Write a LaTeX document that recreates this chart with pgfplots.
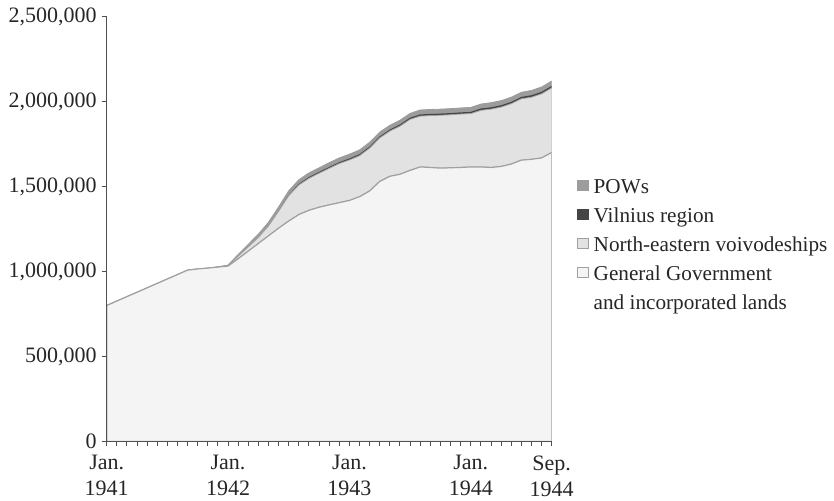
\documentclass[border=0pt]{standalone}
\usepackage{fontspec}
\setmainfont{Liberation Serif}
\usepackage{pgfplots}
\usepackage{pgfplotstable}
\pgfplotsset{compat=1.18}
\definecolor{ggc}{HTML}{F4F4F4}
\definecolor{nec}{HTML}{E2E2E2}
\definecolor{vilc}{HTML}{454545}
\definecolor{powc}{HTML}{9C9C9C}
\definecolor{edgec}{HTML}{A0A0A0}
\definecolor{axc}{HTML}{505050}

\pgfplotstableread{
m gg ne vil pow
0 800000 0 0 0
1 826000 0 0 0
2 852000 0 0 0
3 878000 0 0 0
4 904000 0 0 0
5 930000 0 0 0
6 956000 0 0 0
7 982000 0 0 0
8 1008000 0 0 0
9 1015000 0 0 0
10 1020000 0 0 0
11 1026000 0 0 2000
12 1032000 2000 0 4000
13 1075000 15000 0 10000
14 1120000 25000 0 15000
15 1165000 36000 0 19000
16 1210000 58000 0 22000
17 1255000 100000 2000 23000
18 1297000 149000 5000 24000
19 1335000 174000 7000 24000
20 1360000 188000 8000 24000
21 1378000 200000 8000 24000
22 1392000 215000 8000 25000
23 1405000 230000 8000 25000
24 1418000 238000 9000 25000
25 1440000 241000 9000 25000
26 1474000 252000 9000 25000
27 1530000 256000 9000 25000
28 1560000 266000 9000 25000
29 1572000 283000 10000 25000
30 1595000 300000 10000 25000
31 1615000 299000 10000 26000
32 1612000 305000 10000 26000
33 1608000 311000 10000 26000
34 1610000 312000 10000 26000
35 1612000 314000 10000 26000
36 1615000 314000 10000 26000
37 1615000 333000 11000 26000
38 1612000 343000 11000 27000
39 1618000 349000 11000 27000
40 1632000 355000 11000 27000
41 1655000 361000 11000 27000
42 1660000 365000 12000 28000
43 1668000 377000 12000 28000
44 1700000 380000 12000 28000
}\data

\begin{document}
\begin{tikzpicture}
\path[use as bounding box] (-53.35pt,-29.75pt) rectangle (363.65pt,220.75pt);
\begin{axis}[
  at={(0,0)}, anchor=south west,
  scale only axis, width=222.5pt, height=212.5pt,
  xmin=0, xmax=44, ymin=0, ymax=2500000,
  axis on top,
  axis lines*=left,
  axis line style={axc, line width=0.6pt, -},
  tick align=outside,
  tick style={axc, line width=0.5pt},
  major tick length=2.5pt, minor tick length=2.2pt,
  xtick={0,12,24,36,44},
  xticklabels={{Jan.\\1941},{Jan.\\1942},{Jan.\\1943},{Jan.\\1944},{Sep.\\1944}},
  minor xtick={0,1,...,44},
  ytick={0,500000,1000000,1500000,2000000,2500000},
  scaled y ticks=false,
  yticklabel style={/pgf/number format/fixed, /pgf/number format/1000 sep={,}, xshift=1pt},
  /pgf/number format/assume math mode=true,
  xticklabel style={align=center, yshift=-1pt},
  font=\fontsize{11pt}{13pt}\selectfont,
  ticklabel style={font=\fontsize{11pt}{13pt}\selectfont, text=black!85},
  stack plots=y,
  legend style={at={(1,0.631)}, anchor=north west, xshift=12.5pt,
    draw=none, fill=none, inner sep=0pt, row sep=0.9pt, column sep=1.8pt,
    font=\fontsize{10.6pt}{13pt}\selectfont,
    nodes={inner sep=0.8pt, text height=9pt, text depth=3pt, text=black!85},
    cells={anchor=west}},
]
\addlegendimage{legend image code/.code={\draw[fill=powc,draw=powc] (0pt,-1.6pt) rectangle (5.3pt,3.7pt);}}
\addlegendentry{POWs}
\addlegendimage{legend image code/.code={\draw[fill=vilc,draw=vilc] (0pt,-1.6pt) rectangle (5.3pt,3.7pt);}}
\addlegendentry{Vilnius region}
\addlegendimage{legend image code/.code={\draw[fill=nec,draw=edgec,line width=0.4pt] (0pt,-1.6pt) rectangle (5.3pt,3.7pt);}}
\addlegendentry{North-eastern voivodeships}
\addlegendimage{legend image code/.code={\draw[fill=ggc,draw=edgec,line width=0.4pt] (0pt,-1.6pt) rectangle (5.3pt,3.7pt);}}
\addlegendentry{General Government}
\addlegendimage{empty legend}
\addlegendentry{and incorporated lands}

\addplot[fill=ggc, draw=edgec, line width=0.6pt, forget plot] table[x=m,y=gg]{\data} \closedcycle;
\addplot[fill=nec, draw=edgec, line width=0.4pt, forget plot] table[x=m,y=ne]{\data} \closedcycle;
\addplot[fill=vilc, draw=none, forget plot] table[x=m,y=vil]{\data} \closedcycle;
\addplot[fill=powc, draw=powc, line width=0.4pt, forget plot] table[x=m,y=pow]{\data} \closedcycle;
\end{axis}
\end{tikzpicture}
\end{document}
